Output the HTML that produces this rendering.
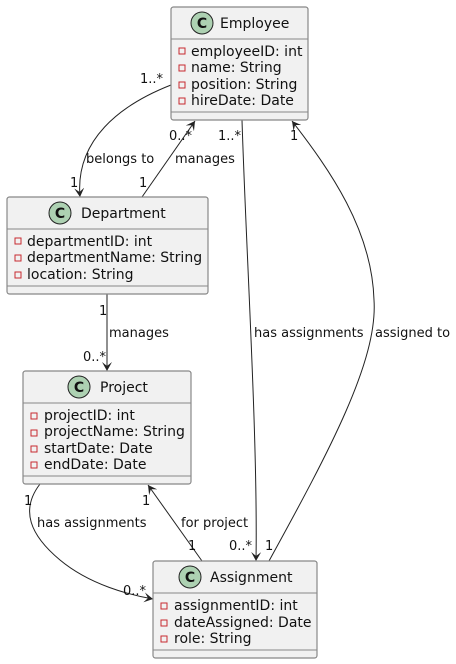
<!DOCTYPE html>
<html><head><meta charset="utf-8"><style>
html,body{margin:0;padding:0;background:#fff;}
svg{display:block;font-family:"DejaVu Sans","Liberation Sans",sans-serif;}
.box{fill:#f1f1f1;stroke:#888;stroke-width:1.2;}
.sep{stroke:#888;stroke-width:1;}
.t{font-size:14px;fill:#111;}
.a{font-size:14px;fill:#111;}
.l{font-size:13px;fill:#111;}
.e{fill:none;stroke:#222;stroke-width:1;}
.vis{fill:none;stroke:#c82930;stroke-width:1;}
.ci{fill:#add1b2;stroke:#222;stroke-width:1;}
.ct{font-size:14px;font-weight:bold;fill:#111;}
</style></head><body>
<svg width="456" height="664" viewBox="0 0 456 664">
<defs>
<marker id="ar" viewBox="0 0 10 10" refX="9" refY="5" markerWidth="10" markerHeight="10" orient="auto" markerUnits="userSpaceOnUse">
<path d="M0,0 L9,5 L0,10 L4,5 Z" fill="#222"/>
</marker>
</defs>

<path class="e" d="M171,85 C120,105 75,140 80,197" marker-end="url(#ar)"/>
<path class="e" d="M142,197 L195,121" marker-end="url(#ar)"/>
<path class="e" d="M242,120 C246,250 258,440 256,561" marker-end="url(#ar)"/>
<path class="e" d="M269,561 C330,450 378,360 374,300 C372,230 330,170 292,121" marker-end="url(#ar)"/>
<path class="e" d="M107,294 L107,371" marker-end="url(#ar)"/>
<path class="e" d="M40,484 C20,510 30,535 60,560 C90,585 130,595 153,599" marker-end="url(#ar)"/>
<path class="e" d="M202,561 L148,485" marker-end="url(#ar)"/>

<text class="l" x="140" y="83">1..*</text>
<text class="l" x="86" y="163">belongs to</text>
<text class="l" x="70" y="187">1</text>
<text class="l" x="169" y="140">0..*</text>
<text class="l" x="175" y="163">manages</text>
<text class="l" x="139" y="187">1</text>
<text class="l" x="218" y="140">1..*</text>
<text class="l" x="254" y="337">has assignments</text>
<text class="l" x="229" y="550">0..*</text>
<text class="l" x="290" y="140">1</text>
<text class="l" x="375" y="337">assigned to</text>
<text class="l" x="265" y="550">1</text>
<text class="l" x="99" y="315">1</text>
<text class="l" x="109" y="337">manages</text>
<text class="l" x="83" y="361">0..*</text>
<text class="l" x="24" y="505">1</text>
<text class="l" x="37" y="527">has assignments</text>
<text class="l" x="123" y="595">0..*</text>
<text class="l" x="142" y="505">1</text>
<text class="l" x="181" y="527">for project</text>
<text class="l" x="188" y="550">1</text>

<rect class="box" x="171" y="7" width="137" height="113" rx="2.5"/>
<line class="sep" x1="171" y1="39" x2="308" y2="39"/>
<line class="sep" x1="171" y1="112" x2="308" y2="112"/>
<circle class="ci" cx="202" cy="23" r="11"/>
<text class="ct" x="202" y="28" text-anchor="middle">C</text>
<text class="t" x="220" y="28">Employee</text>
<rect class="vis" x="179" y="48" width="6" height="6"/><text class="a" x="191" y="56">employeeID: int</text>
<rect class="vis" x="179" y="65" width="6" height="6"/><text class="a" x="191" y="72">name: String</text>
<rect class="vis" x="179" y="82" width="6" height="6"/><text class="a" x="191" y="89">position: String</text>
<rect class="vis" x="179" y="98" width="6" height="6"/><text class="a" x="191" y="105">hireDate: Date</text>

<rect class="box" x="7" y="197" width="201" height="97" rx="2.5"/>
<line class="sep" x1="7" y1="229" x2="208" y2="229"/>
<line class="sep" x1="7" y1="286" x2="208" y2="286"/>
<circle class="ci" cx="60" cy="213" r="11"/>
<text class="ct" x="60" y="218" text-anchor="middle">C</text>
<text class="t" x="81" y="218">Department</text>
<rect class="vis" x="15" y="238" width="6" height="6"/><text class="a" x="27" y="246">departmentID: int</text>
<rect class="vis" x="15" y="255" width="6" height="6"/><text class="a" x="27" y="262">departmentName: String</text>
<rect class="vis" x="15" y="272" width="6" height="6"/><text class="a" x="27" y="279">location: String</text>

<rect class="box" x="23" y="371" width="168" height="113" rx="2.5"/>
<line class="sep" x1="23" y1="403" x2="191" y2="403"/>
<line class="sep" x1="23" y1="476" x2="191" y2="476"/>
<circle class="ci" cx="79" cy="387" r="11"/>
<text class="ct" x="79" y="392" text-anchor="middle">C</text>
<text class="t" x="100" y="392">Project</text>
<rect class="vis" x="31" y="413" width="6" height="6"/><text class="a" x="44" y="420">projectID: int</text>
<rect class="vis" x="31" y="430" width="6" height="6"/><text class="a" x="44" y="436">projectName: String</text>
<rect class="vis" x="31" y="446" width="6" height="6"/><text class="a" x="44" y="453">startDate: Date</text>
<rect class="vis" x="31" y="462" width="6" height="6"/><text class="a" x="44" y="469">endDate: Date</text>

<rect class="box" x="153" y="561" width="164" height="97" rx="2.5"/>
<line class="sep" x1="153" y1="593" x2="317" y2="593"/>
<line class="sep" x1="153" y1="650" x2="317" y2="650"/>
<circle class="ci" cx="190" cy="577" r="11"/>
<text class="ct" x="190" y="582" text-anchor="middle">C</text>
<text class="t" x="210" y="582">Assignment</text>
<rect class="vis" x="161" y="603" width="6" height="6"/><text class="a" x="174" y="610">assignmentID: int</text>
<rect class="vis" x="161" y="620" width="6" height="6"/><text class="a" x="174" y="627">dateAssigned: Date</text>
<rect class="vis" x="161" y="636" width="6" height="6"/><text class="a" x="174" y="643">role: String</text>
</svg>
</body></html>
